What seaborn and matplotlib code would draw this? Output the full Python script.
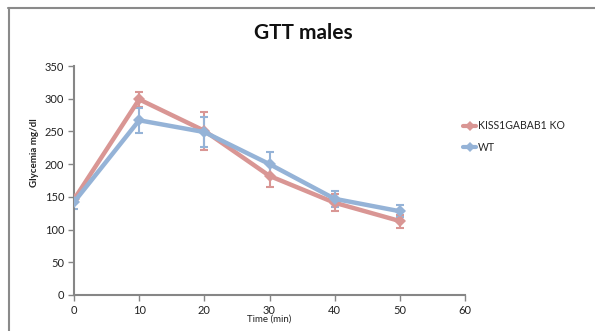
import matplotlib
matplotlib.use("Agg")
import matplotlib.pyplot as plt
from matplotlib.lines import Line2D
import seaborn as sns
import pandas as pd

time = [0, 10, 20, 30, 40, 50]
ko_mean = [146, 299, 251, 182, 141, 113]
ko_err = [5, 12, 29, 17, 13, 10]
wt_mean = [142, 267, 249, 200, 147, 128]
wt_err = [11, 19, 23, 18, 12, 9]
series_names = ["KISS1GABAB1 KO", "WT"]
colors = ["#D99694", "#95B3D7"]

sns.set_theme(style="white")
plt.rcParams["font.family"] = ["Lato", "DejaVu Sans"]

df = pd.DataFrame({
    "time": time * 2,
    "glucose": ko_mean + wt_mean,
    "group": [series_names[0]] * len(time) + [series_names[1]] * len(time),
})

fig = plt.figure(figsize=(5.95, 3.31), dpi=100)
ax = fig.add_axes([0.1244, 0.1088, 0.6571, 0.6918])

for name, mean, err, col in zip(series_names, [ko_mean, wt_mean], [ko_err, wt_err], colors):
    ax.errorbar(time, mean, yerr=err, fmt="none", ecolor=col, elinewidth=1.5,
                capsize=3, capthick=1.5, zorder=2)
    sns.lineplot(data=df[df["group"] == name], x="time", y="glucose", ax=ax,
                 color=col, linewidth=3.2, marker="D", markersize=6,
                 markeredgewidth=0, legend=False, zorder=3)

ax.set_xlim(0, 60)
ax.set_ylim(0, 350)
ax.set_xticks(range(0, 61, 10))
ax.set_yticks(range(0, 351, 50))
for s in ["top", "right"]:
    ax.spines[s].set_visible(False)
for s in ["left", "bottom"]:
    ax.spines[s].set_color("#868686")
    ax.spines[s].set_linewidth(1.5)
ax.tick_params(axis="both", direction="out", length=4, width=1, color="#868686",
               labelsize=8, labelcolor="#222222", pad=3, left=True, bottom=True)
ax.set_xlabel("Time (min)", fontsize=7, labelpad=-1, color="#222222")
ax.set_ylabel("")
fig.text(0.058, 0.54, "Glycemia mg/dl", rotation=90, fontsize=7, fontweight="bold",
         ha="center", va="center", color="#222222")

fig.text(0.509, 0.90, "GTT males", fontsize=15, fontweight="bold", ha="center",
         va="center", color="#111111")

handles = [Line2D([0], [0], color=c, linewidth=3, marker="D", markersize=5,
                  markeredgewidth=0) for c in colors]
fig.legend(handles, series_names, loc="upper left", bbox_to_anchor=(0.763, 0.665),
           frameon=False, fontsize=7.6, handlelength=1.15, handletextpad=0.25,
           labelspacing=1.0)

# outer frame (top and left edges)
fig.add_artist(Line2D([8 / 595, 1], [1 - 8 / 331, 1 - 8 / 331], color="#8a8a8a",
                      linewidth=1.5, transform=fig.transFigure))
fig.add_artist(Line2D([9 / 595, 9 / 595], [0, 1 - 8 / 331], color="#8a8a8a",
                      linewidth=1.5, transform=fig.transFigure))

fig.savefig("out.png", dpi=100)
